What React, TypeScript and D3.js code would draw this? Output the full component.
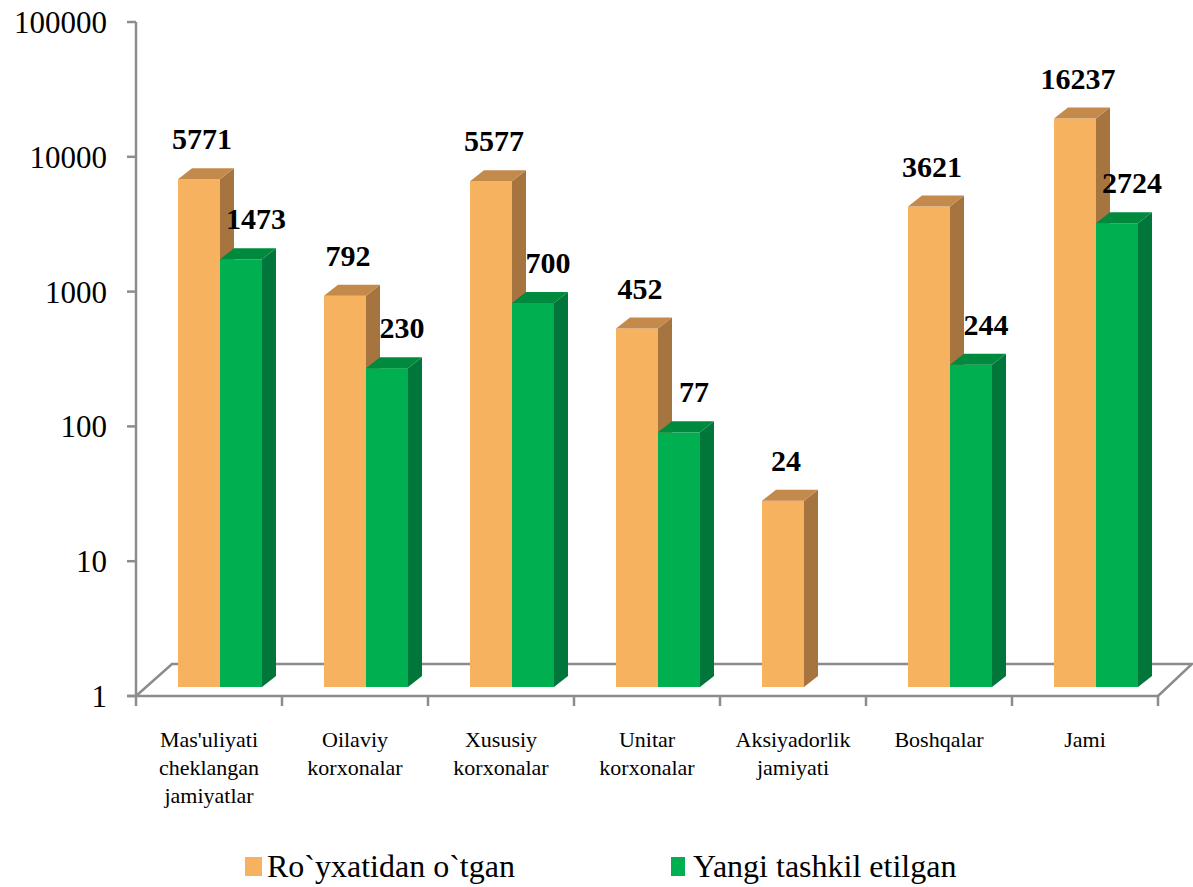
import * as d3 from "d3";

// chart values
const categories = [
  ["Mas'uliyati", "cheklangan", "jamiyatlar"],
  ["Oilaviy", "korxonalar"],
  ["Xususiy", "korxonalar"],
  ["Unitar", "korxonalar"],
  ["Aksiyadorlik", "jamiyati"],
  ["Boshqalar"],
  ["Jami"],
];
const registered = [5771, 792, 5577, 452, 24, 3621, 16237];
const created = [1473, 230, 700, 77, null, 244, 2724];
const seriesNames = ["Ro`yxatidan o`tgan", "Yangi tashkil etilgan"];
const yTicks = [1, 10, 100, 1000, 10000, 100000];

const W = 1193;
const H = 887;

const colors = [
  { front: "#F7B25F", side: "#A6743E", top: "#C48A4C" },
  { front: "#00B050", side: "#00763A", top: "#008A3E" },
];

export default function App() {
  // geometry
  const x0 = 136; // front-left corner of floor
  const catW = 146;
  const floorFront = 696;
  const floorBack = 664;
  const floorDx = 36;
  const barBase = 687;
  const barW = 42;
  const dx = 14; // bar depth
  const dy = 11;

  const yAxis = d3.scaleLog().domain([1, 100000]).range([floorFront, 22]);
  const yBar = d3.scaleLog().domain([1, 100000]).range([barBase, barBase - 5 * 135]);
  const xCat = d3.scaleBand<number>()
    .domain(d3.range(categories.length))
    .range([x0, x0 + catW * categories.length])
    .padding(0);

  const xRight = x0 + catW * categories.length;

  const bar = (i: number, s: number, v: number | null) => {
    if (v == null) return null;
    const left = xCat(i)! + 42 + s * barW;
    const right = left + barW;
    const top = yBar(v);
    const c = colors[s];
    return (
      <g key={`b${i}-${s}`}>
        <rect x={left} y={top} width={barW} height={barBase - top} fill={c.front} />
        <path
          d={`M${right},${top}L${right + dx},${top - dy}L${right + dx},${barBase - dy}L${right},${barBase}Z`}
          fill={c.side}
        />
        <path
          d={`M${left},${top}L${left + dx},${top - dy}L${right + dx},${top - dy}L${right},${top}Z`}
          fill={c.top}
        />
      </g>
    );
  };

  const label = (i: number, s: number, v: number | null) => {
    if (v == null) return null;
    const left = xCat(i)! + 42 + s * barW;
    const cx = left + barW / 2 + (s === 0 ? 3 : 15);
    return (
      <text
        key={`l${i}-${s}`}
        x={cx}
        y={yBar(v) - dy - 19}
        textAnchor="middle"
        fontFamily="'Liberation Serif', 'Times New Roman', serif"
        fontWeight="bold"
        fontSize={30}
        fill="#000"
      >
        {v}
      </text>
    );
  };

  return (
    <svg
      width={W}
      height={H}
      style={{ position: "absolute", left: 0, top: 0, background: "#fff" }}
    >
      {/* floor */}
      <g stroke="#8c8c8c" strokeWidth={2.5} fill="none">
        <path d={`M${x0},${floorFront}L${x0 + floorDx},${floorBack}L${xRight + floorDx - 2},${floorBack}L${xRight},${floorFront}`} />
        <line x1={127} x2={xRight} y1={floorFront} y2={floorFront} />
        {d3.range(categories.length + 1).map((k) => (
          <line key={k} x1={x0 + k * catW} x2={x0 + k * catW} y1={floorFront} y2={floorFront + 10} />
        ))}
        {/* y axis */}
        <line x1={x0} x2={x0} y1={yAxis(100000)} y2={floorFront} />
        {yTicks.map((t) => (
          <line key={t} x1={127} x2={x0} y1={yAxis(t)} y2={yAxis(t)} />
        ))}
      </g>

      {/* y tick labels */}
      {yTicks.map((t) => (
        <text
          key={t}
          x={107}
          y={yAxis(t) + 11}
          textAnchor="end"
          fontFamily="'Liberation Serif', 'Times New Roman', serif"
          fontSize={31}
          fill="#000"
        >
          {t}
        </text>
      ))}

      {/* bars */}
      {categories.map((_, i) => [bar(i, 0, registered[i]), bar(i, 1, created[i])])}

      {/* value labels */}
      {categories.map((_, i) => [label(i, 0, registered[i]), label(i, 1, created[i])])}

      {/* category labels */}
      {categories.map((lines, i) => (
        <text
          key={`c${i}`}
          x={xCat(i)! + catW / 2}
          textAnchor="middle"
          fontFamily="'Liberation Serif', 'Times New Roman', serif"
          fontSize={22}
          fill="#000"
        >
          {lines.map((ln, k) => (
            <tspan key={k} x={xCat(i)! + catW / 2} y={747 + k * 28}>
              {ln}
            </tspan>
          ))}
        </text>
      ))}

      {/* legend */}
      {seriesNames.map((name, s) => {
        const lx = s === 0 ? 245 : 671;
        return (
          <g key={name}>
            <rect x={lx} y={857} width={s === 0 ? 17 : 14} height={19} fill={colors[s].front} />
            <text
              x={lx + (s === 0 ? 22 : 22)}
              y={877}
              fontFamily="'Liberation Serif', 'Times New Roman', serif"
              fontSize={32}
              fill="#000"
            >
              {name}
            </text>
          </g>
        );
      })}
    </svg>
  );
}
